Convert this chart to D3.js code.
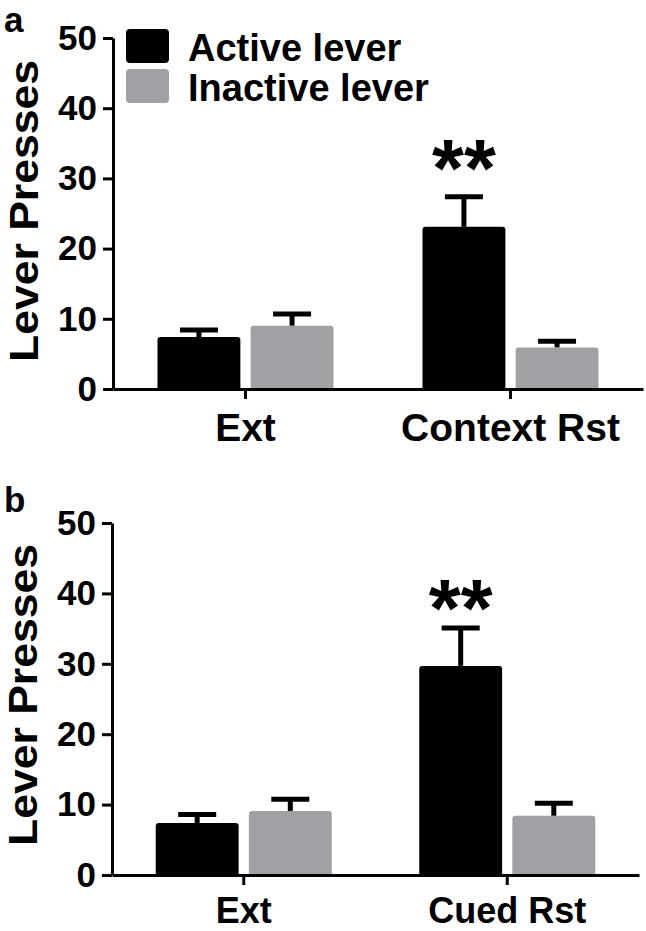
<!DOCTYPE html>
<html>
<head>
<meta charset="utf-8">
<script src="https://cdn.jsdelivr.net/npm/d3@7"></script>
<style>
  body { margin: 0; background: #fff; }
  text { font-family: Arial, "Liberation Sans", Helvetica, sans-serif; font-weight: bold; }
</style>
</head>
<body>
<svg id="chart" width="646" height="931"></svg>
<script>
// Data
var series = ["Active lever", "Inactive lever"];
var yTicks = [0, 10, 20, 30, 40, 50];

var groupsA = ["Ext", "Context Rst"];
var activeA = [7.4, 23.1];
var activeErrA = [1.0, 4.3];
var inactiveA = [9.0, 5.9];
var inactiveErrA = [1.7, 0.9];
var sigA = ["", "**"];
var sigPosA = [0, 32.2];

var groupsB = ["Ext", "Cued Rst"];
var activeB = [7.4, 29.7];
var activeErrB = [1.2, 5.4];
var inactiveB = [9.1, 8.4];
var inactiveErrB = [1.65, 1.8];
var sigB = ["", "**"];
var sigPosB = [0, 38.6];

var colors = { "Active lever": "#000000", "Inactive lever": "#a1a1a5" };

var svg = d3.select("#chart");

function drawPanel(opt) {
    var g = svg.append("g");

    var y = d3.scaleLinear().domain([0, 50]).range([opt.bottom, opt.top]);
    var x0 = d3.scaleBand().domain(opt.groups).range([opt.left, opt.right]).padding(0);
    var x1 = d3.scaleBand().domain(series).range([-88, 88]).paddingInner(0.11).paddingOuter(0);

    var rows = [];
    opt.groups.forEach((grp, i) => {
        rows.push({ group: grp, series: series[0], value: opt.active[i], err: opt.activeErr[i] });
        rows.push({ group: grp, series: series[1], value: opt.inactive[i], err: opt.inactiveErr[i] });
    });

    var cx = d => x0(d.group) + x0.bandwidth() / 2;

    // error bars (upward only)
    g.selectAll(".stem")
        .data(rows)
        .enter()
        .append("line")
        .attr("x1", d => cx(d) + x1(d.series) + x1.bandwidth() / 2)
        .attr("x2", d => cx(d) + x1(d.series) + x1.bandwidth() / 2)
        .attr("y1", d => y(d.value))
        .attr("y2", d => y(d.value + d.err))
        .attr("stroke", "#000")
        .attr("stroke-width", 5);

    g.selectAll(".cap")
        .data(rows)
        .enter()
        .append("line")
        .attr("x1", d => cx(d) + x1(d.series) + x1.bandwidth() / 2 - 19)
        .attr("x2", d => cx(d) + x1(d.series) + x1.bandwidth() / 2 + 19)
        .attr("y1", d => y(d.value + d.err))
        .attr("y2", d => y(d.value + d.err))
        .attr("stroke", "#000")
        .attr("stroke-width", 5);

    // bars with slightly rounded tops
    var r = 3;
    g.selectAll(".bar")
        .data(rows)
        .enter()
        .append("path")
        .attr("class", "bar")
        .attr("d", d => {
            var xl = cx(d) + x1(d.series), w = x1.bandwidth();
            var yt = y(d.value), yb = y(0);
            return `M${xl},${yb}V${yt + r}Q${xl},${yt} ${xl + r},${yt}H${xl + w - r}Q${xl + w},${yt} ${xl + w},${yt + r}V${yb}Z`;
        })
        .attr("fill", d => colors[d.series]);

    // significance stars
    g.selectAll(".sig")
        .data(opt.groups)
        .enter()
        .append("text")
        .attr("x", (d, i) => x0(d) + x0.bandwidth() / 2 + x1(series[0]) + x1.bandwidth() / 2)
        .attr("y", (d, i) => y(opt.sigPos[i]) + 0.4 * 82)
        .attr("text-anchor", "middle")
        .attr("font-size", "82px")
        .text((d, i) => opt.sig[i]);

    // axes
    var yAxis = d3.axisLeft(y).tickValues(yTicks).tickSize(10).tickSizeOuter(0).tickPadding(6);
    var gy = g.append("g")
        .attr("transform", `translate(${opt.left}, 0)`)
        .call(yAxis);
    var xAxis = d3.axisBottom(x0).tickSize(10).tickSizeOuter(0).tickPadding(opt.xPad);
    var gx = g.append("g")
        .attr("transform", `translate(0, ${opt.bottom})`)
        .call(xAxis);

    [gy, gx].forEach(ax => {
        ax.select(".domain").attr("stroke-width", 3);
        ax.selectAll(".tick line").attr("stroke-width", 3);
        ax.selectAll("text")
            .attr("fill", "#000")
            .style("font-family", "Arial, 'Liberation Sans', sans-serif")
            .style("font-weight", "bold");
    });
    gy.selectAll("text").style("font-size", "35px");
    gx.selectAll("text").style("font-size", opt.xFont + "px");

    // y label
    g.append("text")
        .attr("transform", `translate(${opt.labelX}, ${opt.labelY}) rotate(-90)`)
        .attr("text-anchor", "middle")
        .attr("font-size", "41px")
        .attr("textLength", 302)
        .attr("lengthAdjust", "spacingAndGlyphs")
        .text("Lever Presses");

    // panel letter
    g.append("text")
        .attr("x", 4)
        .attr("y", opt.letterY)
        .attr("font-size", "35px")
        .text(opt.letter);

    return g;
}

drawPanel({
    groups: groupsA, active: activeA, activeErr: activeErrA,
    inactive: inactiveA, inactiveErr: inactiveErrA,
    sig: sigA, sigPos: sigPosA,
    top: 38, bottom: 389, left: 113, right: 643,
    labelX: 38, labelY: 211, letter: "a", letterY: 32,
    xFont: 39, xPad: 14
});

drawPanel({
    groups: groupsB, active: activeB, activeErr: activeErrB,
    inactive: inactiveB, inactiveErr: inactiveErrB,
    sig: sigB, sigPos: sigPosB,
    top: 523, bottom: 875, left: 112, right: 639,
    labelX: 37, labelY: 695, letter: "b", letterY: 512,
    xFont: 36, xPad: 12
});

// legend (panel a)
var legend = svg.append("g")
    .selectAll(".legend")
    .data(series)
    .enter()
    .append("g")
    .attr("class", "legend")
    .attr("transform", (d, i) => `translate(126, ${29 + i * 40})`);

legend.append("rect")
    .attr("width", 43)
    .attr("height", 34)
    .attr("rx", 4)
    .attr("fill", d => colors[d]);

legend.append("text")
    .attr("x", 62)
    .attr("y", 32)
    .attr("font-size", "38px")
    .text(d => d);
</script>
</body>
</html>
